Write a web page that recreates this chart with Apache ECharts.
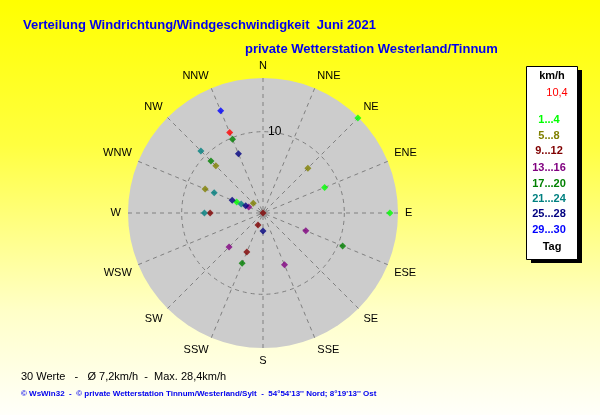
<!DOCTYPE html>
<html>
<head>
<meta charset="utf-8">
<script src="https://cdn.jsdelivr.net/npm/echarts@6/dist/echarts.min.js"></script>
<style>
html,body{margin:0;padding:0;}
#chart{width:600px;height:415px;background:linear-gradient(to bottom,#ffff00 0%,#ffff40 35%,#ffffc8 75%,#fffffa 100%);}
</style>
</head>
<body>
<div id="chart"></div>
<script>
// Compass direction labels (every 22.5°)
const directions = ['N','NNE','NE','ENE','E','ESE','SE','SSE','S','SSW','SW','WSW','W','WNW','NW','NNW'];
// Legend (day groups) and colours
const groupLabels = ['1...4','5...8','9...12','13...16','17...20','21...24','25...28','29...30','30'];
const groupColors = ['#00ff00','#808000','#800000','#800080','#008000','#008080','#000080','#0000ff','#ff0000'];
// Daily mean wind direction (deg), speed (km/h) and day group
const pointDir   = [337.5,337.5,337.5,337.5,315,315,315,292.5,292.5,292.5,292.5,292.5,292.5,292.5,315,270,270,0,45,45,67.5,90,112.5,112.5,157.5,180,202.5,225,202.5,202.5];
const pointSpeed = [13.6,10.7,9.8,7.9,10.8,9.05,8.2,7.7,6.5,4.1,3.5,2.9,2.3,1.9,1.7,7.2,6.5,0,16.5,7.8,8.2,15.6,5.7,10.6,6.9,2.2,1.6,5.9,5.2,6.7];
const pointGroup = [7,8,4,6,5,4,1,1,5,6,0,5,6,3,1,5,2,2,0,1,0,0,3,4,3,6,2,3,2,4];
const radiusMax = 16.6;
const ringValue = 10;
const lastValue = '10,4';
const titleText = 'Verteilung Windrichtung/Windgeschwindigkeit  Juni 2021';
const subTitleText = 'private Wetterstation Westerland/Tinnum';
const summaryText = '30 Werte   -   Ø 7,2km/h  -  Max. 28,4km/h';
const footerText = '© WsWin32  -  © private Wetterstation Tinnum/Westerland/Sylt  -  54°54\'13\'\' Nord; 8°19\'13\'\' Ost';

const FONT = 'Liberation Sans, Arial, sans-serif';
const cx = 263, cy = 213, R = 135;

const series = groupColors.map((c, g) => ({
  type: 'scatter',
  coordinateSystem: 'polar',
  symbol: 'diamond',
  symbolSize: 7,
  itemStyle: { color: c },
  z: 5,
  data: pointDir.map((d, i) => pointGroup[i] === g ? [pointSpeed[i], d] : null).filter(x => x)
}));

// legend graphic
const legendItems = [];
const lx = 549;
legendItems.push({ type:'rect', shape:{x:531,y:70,width:51,height:193}, style:{fill:'#000'} });
legendItems.push({ type:'rect', shape:{x:526.5,y:66.5,width:51,height:193}, style:{fill:'#fff', stroke:'#000', lineWidth:1} });
legendItems.push({ type:'text', x:552, y:76, style:{text:'km/h', fill:'#000', font:'bold 11px ' + FONT, textAlign:'center', textVerticalAlign:'middle'} });
legendItems.push({ type:'text', x:557, y:93, style:{text:lastValue, fill:groupColors[8], font:'11px ' + FONT, textAlign:'center', textVerticalAlign:'middle'} });
const legendY = [120,136,151,167.5,183.5,198.5,214,230];
for (let g = 0; g < 8; g++) {
  legendItems.push({ type:'text', x:lx, y:legendY[g], style:{text:groupLabels[g], fill:groupColors[g], font:'bold 11px ' + FONT, textAlign:'center', textVerticalAlign:'middle'} });
}
legendItems.push({ type:'text', x:552, y:247, style:{text:'Tag', fill:'#000', font:'bold 11px ' + FONT, textAlign:'center', textVerticalAlign:'middle'} });

const chart = echarts.init(document.getElementById('chart'));
chart.setOption({
  animation: false,
  polar: { center: [cx, cy], radius: R },
  angleAxis: {
    type: 'value', min: 0, max: 360, interval: 22.5, startAngle: 90, clockwise: true,
    z: 3,
    axisLine: { show: false },
    axisTick: { show: false },
    axisLabel: {
      margin: 7, color: '#000', fontSize: 11, fontFamily: FONT,
      formatter: v => (v >= 360 ? '' : directions[Math.round(v / 22.5) % 16])
    },
    splitLine: { show: true, lineStyle: { color: '#808080', type: [4, 4], width: 1 } }
  },
  radiusAxis: {
    type: 'value', min: 0, max: radiusMax, interval: ringValue,
    z: 3,
    axisLine: { show: false },
    axisTick: { show: false },
    axisLabel: {
      color: '#000', fontSize: 12, fontFamily: FONT, margin: -5, align: 'left',
      formatter: v => (v === ringValue ? String(ringValue) : '')
    },
    splitLine: { show: true, lineStyle: { color: ['rgba(0,0,0,0)', '#808080', 'rgba(0,0,0,0)'], type: [4, 4], width: 1 } }
  },
  graphic: [
    { type:'circle', shape:{cx:cx, cy:cy, r:R}, style:{fill:'#cccccc'}, z: 1 },
    { type:'rect', shape:{x:cx-3, y:cy-3, width:7, height:7}, style:{fill:'#999999'}, z: 4 },
    { type:'text', x:23, y:25, style:{text:titleText, fill:'#0000ee', font:'bold 13px ' + FONT, textVerticalAlign:'middle'} },
    { type:'text', x:245, y:49, style:{text:subTitleText, fill:'#0000ee', font:'bold 13px ' + FONT, textVerticalAlign:'middle'} },
    { type:'text', x:21, y:377, style:{text:summaryText, fill:'#000', font:'11px ' + FONT, textVerticalAlign:'middle'} },
    { type:'text', x:21, y:394, style:{text:footerText, fill:'#0000ee', font:'bold 8px ' + FONT, textVerticalAlign:'middle'} },
    { type:'group', children: legendItems }
  ],
  series: series
});
</script>
</body>
</html>
